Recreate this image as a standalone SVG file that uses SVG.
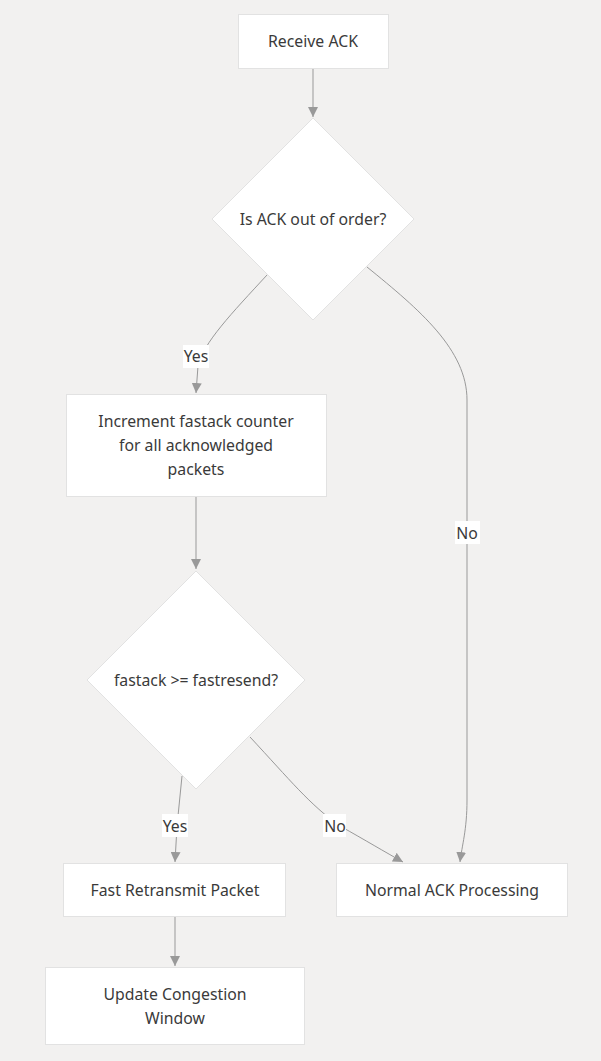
<svg xmlns="http://www.w3.org/2000/svg" width="601" height="1061" viewBox="0 0 601 1061">
<style>
.bg{fill:#f2f1f0}
.node{fill:#ffffff;stroke:#e2e2e2;stroke-width:1}
.lbl{font-family:"Noto Sans","Noto Sans CJK KR",sans-serif;font-size:15.8px;fill:#3a3a3a;text-anchor:middle;dominant-baseline:central}
.edge{fill:none;stroke:#999999;stroke-width:1}
.elbg{fill:#ffffff}
</style>
<defs>
<marker id="arr" viewBox="0 0 10 10" refX="10" refY="5" markerWidth="10" markerHeight="10" markerUnits="userSpaceOnUse" orient="auto">
<path d="M0,0 L10,5 L0,10 z" fill="#999999"/>
</marker>
</defs>
<rect class="bg" x="0" y="0" width="601" height="1061"/>
<g id="connectors">
<path class="edge" d="M313,68 L313,117" marker-end="url(#arr)"/>
<path class="edge" d="M267,275 C232,313 203,343 198,366 L196,393" marker-end="url(#arr)"/>
<path class="edge" d="M367,267 C420,310 467,350 467,400 L467,800 C467,830 462,845 460,862" marker-end="url(#arr)"/>
<path class="edge" d="M196,496 L196,569" marker-end="url(#arr)"/>
<path class="edge" d="M182,776 L177,826 L175,862" marker-end="url(#arr)"/>
<path class="edge" d="M250,737 C290,780 310,805 340,826 C365,840 385,852 403,862" marker-end="url(#arr)"/>
<path class="edge" d="M175,917 L175,966" marker-end="url(#arr)"/>
<rect class="elbg" x="183" y="345" width="26" height="23"/>
<text class="lbl" x="196" y="356">Yes</text>
<rect class="elbg" x="455" y="521" width="25" height="23"/>
<text class="lbl" x="467" y="533">No</text>
<rect class="elbg" x="162" y="814" width="26" height="23"/>
<text class="lbl" x="175" y="826">Yes</text>
<rect class="elbg" x="323" y="814" width="23" height="23"/>
<text class="lbl" x="335" y="826">No</text>
</g>
<g id="receive">
<rect class="node" x="238.5" y="14.5" width="150" height="54"/>
<text class="lbl" x="313" y="41">Receive ACK</text>
</g>
<g id="outoforder">
<polygon class="node" points="313,118 414,219 313,320 212,219"/>
<text class="lbl" x="313" y="219">Is ACK out of order?</text>
</g>
<g id="increment">
<rect class="node" x="66.5" y="394.5" width="260" height="102"/>
<text class="lbl" x="196" y="421">Increment fastack counter</text>
<text class="lbl" x="196" y="445">for all acknowledged</text>
<text class="lbl" x="196" y="469">packets</text>
</g>
<g id="fastcheck">
<polygon class="node" points="196,571 305,680 196,789 87,680"/>
<text class="lbl" x="196" y="680">fastack &gt;= fastresend?</text>
</g>
<g id="retransmit">
<rect class="node" x="63.5" y="863.5" width="222" height="53"/>
<text class="lbl" x="175" y="890">Fast Retransmit Packet</text>
</g>
<g id="normal">
<rect class="node" x="336.5" y="863.5" width="231" height="53"/>
<text class="lbl" x="452" y="890">Normal ACK Processing</text>
</g>
<g id="congestion">
<rect class="node" x="45.5" y="967.5" width="259" height="77"/>
<text class="lbl" x="175" y="994">Update Congestion</text>
<text class="lbl" x="175" y="1018">Window</text>
</g>
</svg>
